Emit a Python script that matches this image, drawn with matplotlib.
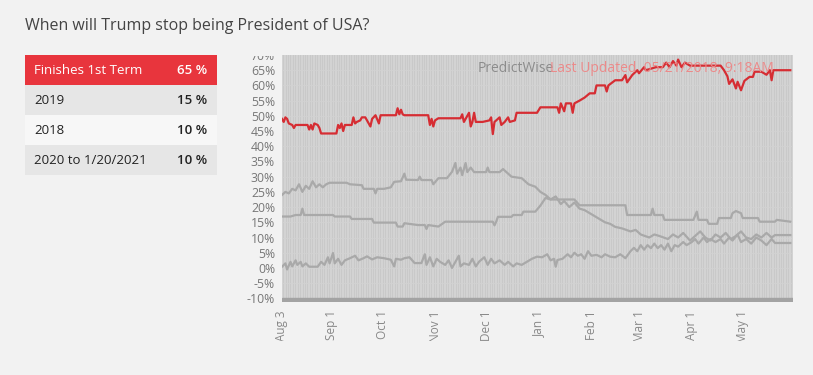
import numpy as np
import matplotlib.pyplot as plt
from matplotlib.patches import Rectangle

plt.rcParams['font.family'] = ['Open Sans', 'DejaVu Sans']

title = 'When will Trump stop being President of USA?'
outcomes = ['Finishes 1st Term', '2019', '2018', '2020 to 1/20/2021']
odds = [65, 15, 10, 10]

start = np.datetime64('2017-08-03')
tick_dates = ['2017-08-03', '2017-09-01', '2017-10-01', '2017-11-01', '2017-12-01',
              '2018-01-01', '2018-02-01', '2018-03-01', '2018-04-01', '2018-05-01']
tick_labels = ['Aug 3', 'Sep 1', 'Oct 1', 'Nov 1', 'Dec 1',
               'Jan 1', 'Feb 1', 'Mar 1', 'Apr 1', 'May 1']

# days after Aug 3 2017, values in %
red_days = [0, 1, 2, 3, 4, 6, 7, 8, 15, 16, 17, 18, 19, 21, 22, 23, 32, 33, 34, 35, 36, 37,
            41, 42, 43, 44, 46, 47, 49, 50, 52, 53, 55, 57, 58, 67, 68, 69, 70, 71, 72,
            86, 87, 88, 89, 90, 92, 105, 106, 107, 110, 111, 112, 113, 114, 118, 122, 123,
            124, 125, 128, 129, 131, 133, 134, 137, 138, 140, 150, 152, 162, 163, 164, 166,
            167, 170, 171, 172, 175, 178, 181, 184, 185, 190, 191, 192, 196, 200, 202, 203,
            206, 209, 210, 213, 214, 217, 220, 224, 226, 228, 230, 232, 233, 235, 237, 240,
            258, 260, 262, 263, 265, 267, 268, 270, 272, 275, 277, 278, 282, 285, 287, 288,
            289, 299]
red_vals = [49, 48, 49.5, 49, 47.5, 47, 46, 47, 47, 45.5, 47, 45.5, 47.5, 47, 46, 44.2, 44.2,
            47, 46, 47.5, 45, 47, 47, 49.5, 47.5, 48, 48.5, 49.5, 49.5, 48.5, 46.5, 49, 50.2,
            47.5, 50.2, 50.2, 52.5, 50.5, 52, 50.5, 50.2, 50.2, 47, 49, 46.5, 48.5, 49.2,
            49.2, 50.5, 48, 51, 46.5, 48, 51, 48, 48, 48.5, 49.5, 44, 48, 49.5, 47, 48, 49.5,
            48, 48.5, 51, 51, 51, 52.8, 52.8, 51, 54.1, 51.5, 54.1, 54.1, 51, 54.1, 55, 56,
            57.4, 57.4, 60, 60, 58, 60, 61.7, 61.7, 63.4, 61, 63.4, 65, 64, 66, 65, 65.5,
            66, 66, 67.5, 66, 68, 66.5, 68.5, 66, 67.5, 66.5, 66.5, 65, 63, 60.5, 62, 59,
            61.2, 58.4, 61.5, 62.8, 62.8, 64.5, 64.5, 63.5, 65, 61.7, 65, 65]

a_days = [0, 2, 4, 6, 8, 10, 12, 14, 16, 18, 20, 22, 24, 26, 28, 38, 40, 47, 48, 54, 55, 56,
          60, 64, 66, 70, 72, 73, 80, 81, 82, 88, 89, 92, 97, 100, 102, 103, 105, 106, 108,
          109, 111, 113, 120, 121, 122, 128, 130, 135, 141, 145, 149, 152, 155, 158, 161,
          164, 166, 169, 172, 175, 178, 181, 184, 187, 190, 193, 196, 200, 205, 208, 211,
          216, 219, 222, 227, 230, 233, 236, 240, 243, 246, 249, 252, 255, 258, 261, 264,
          267, 270, 273, 276, 279, 282, 285, 288, 290, 293, 296, 299]
a_vals = [24, 25, 24.5, 26, 25.5, 27.5, 25, 27, 26, 28.5, 26.5, 27.5, 26.5, 27.5, 28, 28,
          27.5, 27.2, 26, 26, 24.5, 26, 26, 26.5, 28.3, 28.5, 31, 29, 28.9, 30, 28.9, 28.9,
          27.5, 29.5, 29.5, 31.6, 34.5, 31, 33, 30.5, 34.5, 31.5, 33, 31.5, 31.5, 33, 31.5,
          31.5, 32.5, 30, 29.5, 27.5, 26.7, 25, 24, 22.5, 23.5, 21, 22, 20, 21.5, 19.5, 19,
          18, 17, 16, 15, 14.5, 13.5, 13, 12, 12.5, 11, 10, 11, 10.5, 9.5, 11, 10, 11.5, 9,
          10.5, 12, 10, 9, 11, 10, 11.5, 9.5, 10.5, 12, 10, 9.5, 11, 10, 11.5, 10, 10.8,
          10.8, 10.8, 10.8]

b_days = [0, 5, 8, 11, 12, 13, 30, 31, 40, 41, 53, 54, 67, 68, 71, 72, 80, 84, 85, 86, 92,
          96, 124, 125, 126, 127, 135, 136, 141, 142, 149, 152, 155, 158, 172, 175, 202, 203,
          217, 218, 219, 224, 225, 242, 244, 245, 250, 251, 256, 257, 264, 265, 267, 270,
          271, 280, 281, 290, 291, 299]
b_vals = [16.9, 16.9, 17.4, 17.4, 19.5, 17.4, 17.4, 16.9, 16.9, 16.1, 16.1, 14.9, 14.9, 13.6,
          13.6, 14.7, 14.1, 14.1, 12.8, 14.1, 13.6, 15.2, 15.2, 14, 15.2, 16.8, 16.8, 17.4,
          17.4, 18.5, 18.5, 20.5, 23, 22.5, 22.5, 20.6, 20.6, 17.4, 17.4, 19.5, 17.4, 17.4,
          15.8, 15.8, 18.5, 15.8, 15.8, 14.5, 14.5, 16.4, 16.4, 18, 18.7, 18, 16.4, 16.4,
          15.2, 15.2, 15.8, 15.2]

c_days = [0, 2, 3, 5, 6, 8, 9, 11, 12, 14, 16, 21, 23, 25, 27, 28, 30, 31, 33, 35, 37, 40,
          43, 45, 48, 50, 53, 56, 60, 64, 66, 67, 70, 72, 75, 78, 82, 84, 85, 87, 89, 91, 93,
          96, 98, 100, 102, 104, 105, 107, 110, 112, 114, 116, 119, 121, 123, 125, 128, 131,
          133, 136, 138, 141, 144, 147, 150, 153, 156, 158, 160, 161, 162, 165, 168, 170,
          172, 174, 176, 178, 180, 182, 185, 188, 190, 193, 196, 199, 202, 205, 207, 209,
          211, 213, 215, 217, 219, 221, 223, 225, 227, 229, 231, 233, 236, 238, 241, 243,
          245, 248, 250, 252, 255, 258, 260, 263, 265, 268, 270, 273, 276, 279, 282, 285,
          288, 290, 293, 296, 299]
c_vals = [0.4, 1.5, -0.5, 2, 0.5, 2.5, 1, 2, 0.5, 1.5, 0.4, 0.4, 2, 1, 3.5, 1.5, 4.9, 1.5,
          3, 1, 2.5, 3.2, 4, 2.5, 3.2, 3.8, 2.8, 3.5, 3.2, 2.7, 0.5, 3, 2.7, 3.2, 3.5, 1.6,
          1.6, 4.5, 1, 3.5, 0.5, 3, 2, 1, 2.5, 0, 2, 4, 0.5, 1.5, 1, 3, 0.5, 2.1, 3.5, 1, 3,
          1.5, 2.5, 1, 2, 0.5, 1.5, 1, 2, 3, 3.7, 3.5, 4.5, 2.5, 3, 0.4, 2.6, 3, 4.5, 3.5, 5,
          4, 4.5, 3, 5.5, 4, 4.3, 3.5, 4.5, 3.7, 3.5, 4.5, 3.2, 5.5, 6.6, 5.5, 7.5, 6, 7.5,
          6.5, 8, 6.5, 7.5, 6, 8, 5.5, 7.5, 7, 8.5, 7.5, 8.5, 9.5, 8, 10, 8.5, 9.5, 8.5, 9.5,
          8, 10, 9, 11, 8.5, 9.5, 8, 10, 9, 7.5, 9.5, 8.2, 8.2, 8.2, 8.2]

fig = plt.figure(figsize=(8.13, 3.75), dpi=100)
fig.patch.set_facecolor('#f2f2f2')
W, H = 813, 375
bg = '#f2f2f2'

fig.text(25 / W, 1 - 26 / H, title, fontsize=11.5, color='#444444', va='center')

# odds table
row_bg = ['#e8353d', '#e6e6e6', '#f7f7f7', '#e6e6e6']
for i, (name, p) in enumerate(zip(outcomes, odds)):
    top = 55 + 30 * i
    fig.patches.append(Rectangle((25 / W, 1 - (top + 30) / H), 192 / W, 30 / H,
                                 transform=fig.transFigure, facecolor=row_bg[i], edgecolor='none'))
    col = 'white' if i == 0 else '#222222'
    fig.text(34 / W, 1 - (top + 15) / H, name, fontsize=9.5, color=col, va='center')
    fig.text(207 / W, 1 - (top + 15) / H, f'{p} %', fontsize=9.5, color=col,
             va='center', ha='right', fontweight='semibold')

ax = fig.add_axes([282 / W, 1 - 302 / H, 511 / W, 247 / H])
ax.set_facecolor('#c9c9c9')

def to_dates(days):
    return start + np.array(days).astype('timedelta64[D]')

all_days = np.arange(0, 301)
ax.vlines(to_dates(all_days), -12, 71, color='#d6d6d6', lw=0.6, zorder=0)
for y in range(-5, 70, 5):
    ax.axhline(y, color='#d2d2d2', lw=0.6, zorder=0)
ax.axhspan(-11.3, -9.9, color='#a3a3a3', zorder=1)

gray = '#a9a9a9'
ax.plot(to_dates(b_days), b_vals, color=gray, lw=1.6, zorder=2)
ax.plot(to_dates(a_days), a_vals, color=gray, lw=1.6, zorder=2)
ax.plot(to_dates(c_days), c_vals, color=gray, lw=1.6, zorder=2)
ax.plot(to_dates(red_days), red_vals, color='#d62d33', lw=1.6, zorder=3)

ax.set_xlim(start, start + np.timedelta64(7214, 'h'))
ax.set_ylim(-11.2, 70)
ax.set_yticks(range(-10, 75, 5))
ax.set_yticklabels([f'{v}%' for v in range(-10, 75, 5)])
ax.set_xticks(np.array(tick_dates, dtype='datetime64[D]'))
ax.set_xticklabels(tick_labels, rotation=90)
ax.tick_params(axis='both', length=0)
ax.tick_params(axis='x', pad=6, labelsize=8.5, labelcolor='#888888')
ax.tick_params(axis='y', pad=5, labelsize=8.8, labelcolor='#777777')
for s in ax.spines.values():
    s.set_visible(False)

ax.text(0.383, 0.975, 'PredictWise', transform=ax.transAxes, fontsize=10,
        color='#8c8c8c', va='top', ha='left', zorder=4)
ax.text(0.525, 0.975, 'Last Updated  05/21/2018, 9:18AM', transform=ax.transAxes,
        fontsize=10, color='#ec8a8a', va='top', ha='left', zorder=4)

# chart container cuts the outer tick labels
fig.patches.append(Rectangle((235 / W, 1 - 56 / H), 46 / W, 14 / H, transform=fig.transFigure,
                             facecolor=bg, edgecolor='none', zorder=5))
fig.patches.append(Rectangle((250 / W, 0), 560 / W, (375 - 341) / H, transform=fig.transFigure,
                             facecolor=bg, edgecolor='none', zorder=5))

fig.savefig('out.png', dpi=100, facecolor=fig.get_facecolor())
